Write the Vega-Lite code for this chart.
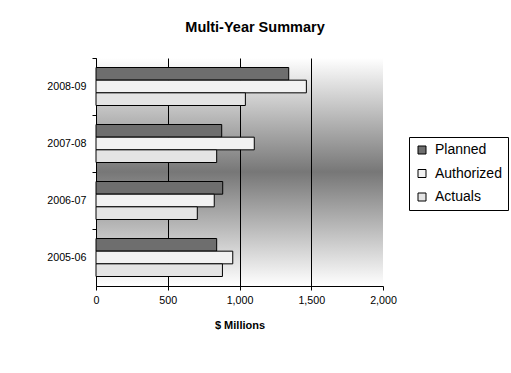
{
  "$schema": "https://vega.github.io/schema/vega-lite/v6.json",
  "autosize": {"type": "none"},
  "padding": {"left": 96, "top": 58, "right": 128, "bottom": 87},
  "width": 287,
  "height": 228,
  "background": "white",
  "title": {
    "text": "Multi-Year Summary",
    "anchor": "middle",
    "dx": 15.5,
    "offset": 22,
    "font": "Liberation Sans",
    "fontSize": 14.5,
    "fontWeight": "bold",
    "color": "black"
  },
  "view": {
    "stroke": null,
    "fill": {
      "gradient": "linear",
      "x1": 0, "y1": 0, "x2": 0, "y2": 1,
      "stops": [
        {"offset": 0, "color": "#ffffff"},
        {"offset": 0.5, "color": "#777777"},
        {"offset": 1, "color": "#ffffff"}
      ]
    }
  },
  "config": {"font": "Liberation Sans"},
  "data": {
    "values": [
      {"year": "2008-09", "series": "Planned", "value": 1343},
      {"year": "2008-09", "series": "Authorized", "value": 1466},
      {"year": "2008-09", "series": "Actuals", "value": 1041},
      {"year": "2007-08", "series": "Planned", "value": 876},
      {"year": "2007-08", "series": "Authorized", "value": 1103},
      {"year": "2007-08", "series": "Actuals", "value": 841},
      {"year": "2006-07", "series": "Planned", "value": 883},
      {"year": "2006-07", "series": "Authorized", "value": 824},
      {"year": "2006-07", "series": "Actuals", "value": 706},
      {"year": "2005-06", "series": "Planned", "value": 841},
      {"year": "2005-06", "series": "Authorized", "value": 953},
      {"year": "2005-06", "series": "Actuals", "value": 881}
    ]
  },
  "mark": {"type": "bar", "stroke": "black", "strokeWidth": 1},
  "encoding": {
    "y": {
      "field": "year",
      "type": "nominal",
      "scale": {"domain": ["2008-09", "2007-08", "2006-07", "2005-06"], "paddingInner": 0, "paddingOuter": 0},
      "axis": {
        "title": null,
        "bandPosition": 0,
        "labelOffset": 0,
        "tickSize": 4,
        "tickColor": "black",
        "domainColor": "black",
        "labelFont": "Liberation Sans",
        "labelFontSize": 10.7,
        "labelColor": "black",
        "labelPadding": 6,
        "grid": false
      }
    },
    "yOffset": {
      "field": "series",
      "type": "nominal",
      "scale": {"domain": ["Planned", "Authorized", "Actuals"], "paddingInner": 0, "paddingOuter": 0.75}
    },
    "x": {
      "field": "value",
      "type": "quantitative",
      "scale": {"domain": [0, 2000], "nice": false},
      "axis": {
        "values": [0, 500, 1000, 1500, 2000],
        "format": ",.0f",
        "title": "$ Millions",
        "titleFont": "Liberation Sans",
        "titleFontSize": 11,
        "titleFontWeight": "bold",
        "titleColor": "black",
        "titlePadding": 14,
        "labelFont": "Liberation Sans",
        "labelFontSize": 10.7,
        "labelColor": "black",
        "labelPadding": 5.5,
        "labelFlush": false,
        "tickSize": 4,
        "tickColor": "black",
        "domainColor": "black",
        "grid": true,
        "gridColor": "black",
        "gridOpacity": {"condition": {"test": "datum.value >= 2000", "value": 0}, "value": 1}
      }
    },
    "color": {
      "field": "series",
      "type": "nominal",
      "scale": {"domain": ["Planned", "Authorized", "Actuals"], "range": ["#6e6e6e", "#f2f2f2", "#e4e4e4"]},
      "legend": {
        "title": null,
        "orient": "none",
        "legendX": 313,
        "legendY": 79,
        "strokeColor": "black",
        "fillColor": "white",
        "padding": 6,
        "symbolType": "square",
        "symbolSize": 64,
        "symbolStrokeColor": "black",
        "symbolStrokeWidth": 1,
        "symbolOpacity": 1,
        "labelFont": "Liberation Sans",
        "labelFontSize": 14,
        "labelColor": "black",
        "labelOffset": 6,
        "rowPadding": 9.5
      }
    }
  }
}
